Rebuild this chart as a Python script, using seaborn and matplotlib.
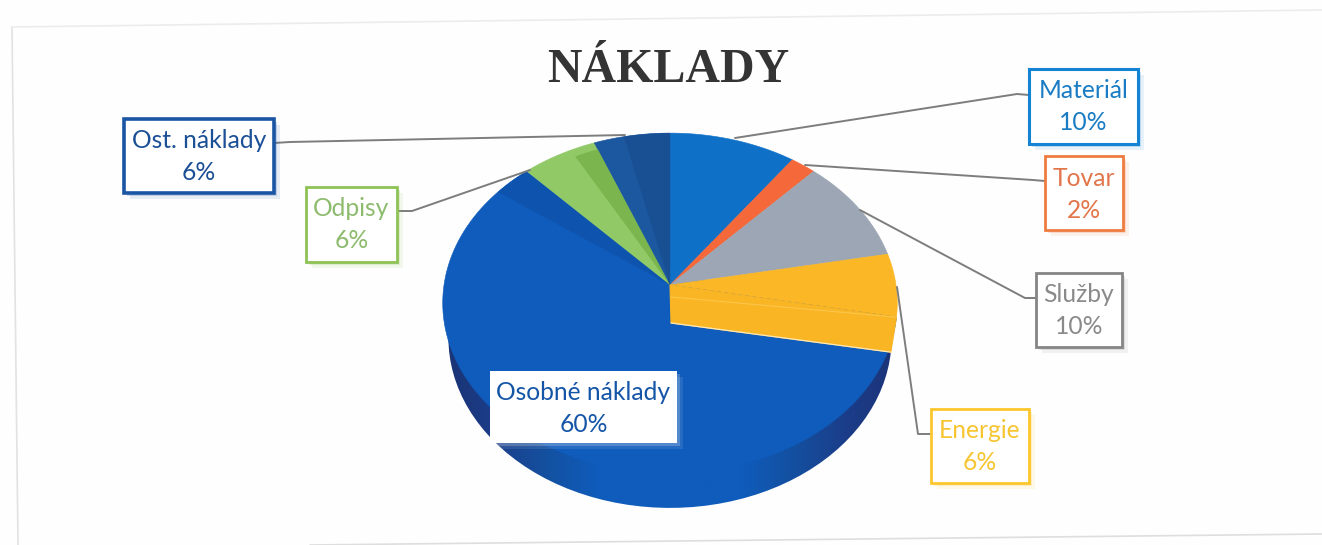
import numpy as np
import matplotlib
matplotlib.use('Agg')
import matplotlib.pyplot as plt
import matplotlib.patheffects as pe
from matplotlib.patches import Polygon, Rectangle
from matplotlib.colors import LinearSegmentedColormap
import seaborn as sns

# data
categories = ['Materiál', 'Tovar', 'Služby', 'Energie', 'Osobné náklady', 'Odpisy', 'Ost. náklady']
shares = [10, 2, 10, 6, 60, 6, 6]

# styles
slice_colors = ['#0f70c8', '#f4683a', '#9ca6b4', '#fbb726', '#0f5cbc', '#90c966', '#1c589f']
text_colors = ['#1a7cc4', '#e2764a', '#8a8a8a', '#f7c531', '#1455a8', '#8dbb6e', '#1b4f96']
box_colors = ['#1583d3', '#ee7c40', '#858585', '#fcc62c', '#ffffff', '#8dc255', '#1a55a4']
box_widths = [2.2, 2.0, 2.0, 2.0, 0, 2.0, 2.6]
boxes = [(1029, 69, 1138, 144), (1045, 156, 1123, 230), (1036, 273, 1122, 347),
         (931, 409, 1029, 483), (490, 371, 677, 443), (306, 187, 397, 262), (124, 119, 274, 193)]
leaders = [[(1029, 95), (1017, 94), (735, 138)],
           [(1045, 181), (1033, 180), (805, 165)],
           [(1036, 298), (1025, 298), (860, 210)],
           [(931, 434), (918, 434), (897, 287)],
           [],
           [(397, 211), (412, 211), (530, 170)],
           [(274, 143), (290, 142), (625, 135)]]

# picture geometry, pixels: pie seen in perspective
apex_x, apex_y = 670, 285
rx, ry, persp = 226, 168, 0.106
depth = 35


def project(x, y):
    w = 1 + persp * y
    return apex_x + rx * x / w, apex_y - ry * y / w


def rim(theta1, theta2, n=120, r=1.0):
    t = np.radians(np.linspace(theta1, theta2, n))
    return project(r * np.cos(t), r * np.sin(t))


sns.set_theme(style='white')
plt.rcParams['font.family'] = ['Lato', 'DejaVu Sans']

fig = plt.figure(figsize=(13.22, 5.45), dpi=100, facecolor='#fefefe')
ax = fig.add_axes([0, 0, 1, 1])

wedges, _ = ax.pie(shares, colors=sns.color_palette(slice_colors), startangle=90, counterclock=False)
ax.set_aspect('auto')
ax.axis('off')

# side of the pie, dark at both ends and same blue as the top at the bottom
sx, sy = rim(0, 360)
sx = apex_x + (sx - apex_x) * 0.975
sy = sy + depth
side = Polygon(np.column_stack([sx, sy]), closed=True, fc='none', ec='none')
ax.add_patch(side)
side_cmap = LinearSegmentedColormap.from_list('side', [(0, '#1a3474'), (0.1, '#1c3c88'), (0.22, '#14509f'),
                                                       (0.34, '#0f5cbc'), (0.66, '#0f5cbc'), (0.78, '#144f9f'),
                                                       (0.9, '#1c3c88'), (1, '#1b3478')])
img = ax.imshow(np.linspace(0, 1, 256)[None, :], cmap=side_cmap, aspect='auto', zorder=2,
                extent=(445, 895, 545, 280))
img.set_clip_path(side)
ax.set_xlim(0, 1322)
ax.set_ylim(545, 0)

# top faces, drawn through the perspective from the angles pie() worked out
for w, color in zip(wedges, slice_colors):
    x, y = rim(w.theta1, w.theta2)
    ax.add_patch(Polygon(np.column_stack([np.r_[apex_x, x], np.r_[apex_y, y]]), closed=True,
                         fc=color, ec=color, lw=0.4, zorder=3))
    w.set_visible(False)

# shading inside Osobné náklady, Odpisy and Ost. náklady
for w, a, b, r, color in [(wedges[4], 0.0, 0.05, 1.0, '#0e54ae'), (wedges[5], 0.0, 0.33, 0.95, '#7ab54d'),
                          (wedges[6], 0.0, 0.6, 1.0, '#194f93')]:
    span = w.theta2 - w.theta1
    x, y = rim(w.theta1 + a * span, w.theta1 + b * span, 30, r)
    ax.add_patch(Polygon(np.column_stack([np.r_[apex_x, x], np.r_[apex_y, y]]), closed=True,
                         fc=color, ec='none', zorder=3.1))

# wall of the Energie slice, visible over the Osobné face
ex, ey = rim(wedges[3].theta1, wedges[3].theta1, 1)
wall = [(apex_x, apex_y), (ex[0], ey[0]), (apex_x + (ex[0] - apex_x) * 0.975, ey[0] + depth),
        (apex_x + 1, apex_y + 38)]
ax.add_patch(Polygon(wall, closed=True, fc='#f9b524', ec='#f9b524', lw=0.8, zorder=3.2))
ax.plot([wall[2][0], wall[3][0]], [wall[2][1], wall[3][1]], color='#fde9b8', lw=0.9, zorder=3.3)
ax.plot([apex_x + 1, ex[0]], [apex_y + 12, ey[0]], color='#fcc64a', lw=0.8, zorder=3.3)

# leader lines
for pts in leaders:
    if pts:
        ax.plot(*zip(*pts), color='#7d7d7d', lw=1.4, zorder=4, solid_capstyle='round')

# label boxes
for name, share, tc, bc, lw, (x0, y0, x1, y1) in zip(categories, shares, text_colors, box_colors,
                                                    box_widths, boxes):
    r = Rectangle((x0, y0), x1 - x0, y1 - y0, fc='white', ec=bc, lw=lw, zorder=5)
    r.set_path_effects([pe.SimplePatchShadow(offset=(4, -4), shadow_rgbFace=bc, alpha=0.1),
                        pe.SimplePatchShadow(offset=(2, -2), shadow_rgbFace=bc, alpha=0.2),
                        pe.Normal()])
    ax.add_patch(r)
    xc = (x0 + x1) / 2
    ax.text(xc, y0 + 22, name, color=tc, fontsize=17.7, ha='center', va='center', zorder=6)
    ax.text(xc, y0 + 54, f'{share}%', color=tc, fontsize=17.7, ha='center', va='center', zorder=6)

ax.text(668, 70, 'NÁKLADY', family='Liberation Serif', weight='bold', fontsize=34.5,
        color='#343434', ha='center', va='center')

# faint frame of the scanned sheet
ax.plot([12, 18], [27, 545], color='#e2e2e2', lw=1.2)
ax.plot([12, 1322], [27, 10], color='#ececec', lw=1.2)
ax.plot([310, 1322], [545, 534], color='#dedede', lw=1.2)

fig.savefig('out.png', dpi=100, facecolor=fig.get_facecolor())
